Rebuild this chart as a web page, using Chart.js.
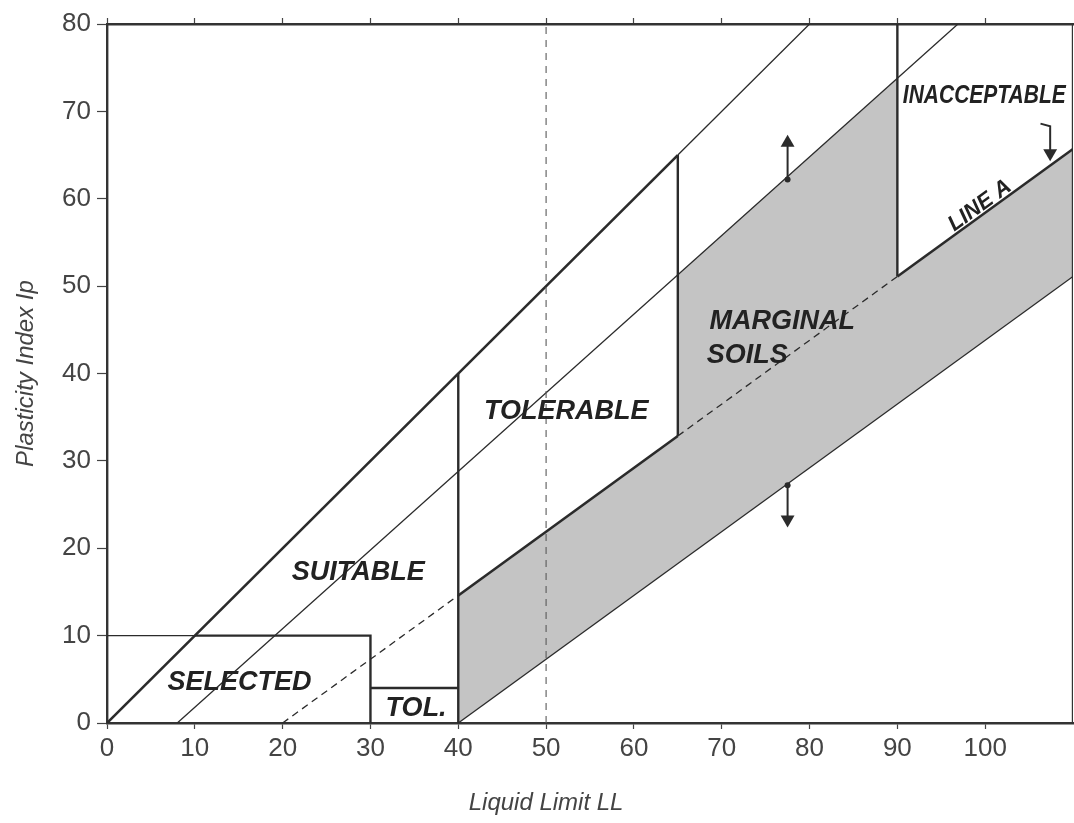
<!DOCTYPE html>
<html>
<head>
<meta charset="utf-8">
<script src="https://cdn.jsdelivr.net/npm/chart.js@4/dist/chart.umd.min.js"></script>
<style>
  html, body { margin: 0; padding: 0; background: #fff; overflow: hidden; }
  #wrap { width: 1074px; height: 823px; position: relative; }
</style>
</head>
<body>
<div id="wrap"><canvas id="chart"></canvas></div>
<script>
// axis ticks
var xTicks = [0, 10, 20, 30, 40, 50, 60, 70, 80, 90, 100];
var yTicks = [0, 10, 20, 30, 40, 50, 60, 70, 80];

// boundary lines [LL, Ip]
var upperThick = [[0, 0], [65, 65]];
var upperThin = [[65, 65], [80, 80]];
var midLine = [[8, 0], [96.9, 80]];
var lowerLine = [[40, 0], [110, 51.1]];
var lineADash1 = [[20, 0], [40, 14.6]];
var lineAThick1 = [[40, 14.6], [65, 32.85]];
var lineADash2 = [[65, 32.85], [90, 51.1]];
var lineAThick2 = [[90, 51.1], [110, 65.7]];
var selectedThin = [[0, 10], [10, 10]];
var selectedBox = [[10, 10], [30, 10], [30, 0]];
var tolBox = [[30, 4], [40, 4]];
var vert40 = [[40, 0], [40, 40]];
var vert65 = [[65, 32.85], [65, 65]];
var vert90 = [[90, 51.1], [90, 80]];
var vert50 = [[50, 0], [50, 80]];
var rightFrame = [[110, 0], [110, 80]];
// shaded band, upper edge (filled down to lowerLine)
var marginalTop = [[40, 14.6], [65, 32.85], [65, 51.3], [90, 73.8], [90, 51.1], [110, 65.7]];

// arrows
var arrowUp = [[77.5, 62.2], [77.5, 66.4]];
var arrowDown = [[77.5, 27.2], [77.5, 23.3]];
var arrowLineA = [[106.3, 68.6], [107.4, 68.3], [107.4, 65.2]];

// region labels [text, LL, Ip]
var regionLabels = [
  ['SELECTED', 15.1, 4.6],
  ['TOL.', 35.2, 1.6],
  ['SUITABLE', 28.6, 17.2],
  ['TOLERABLE', 52.3, 35.7],
  ['MARGINAL', 76.9, 46.0],
  ['INACCEPTABLE', 99.9, 71.8]
];

var INK = '#2b2b2b';
var FONT = '"Liberation Sans", Arial, sans-serif';

function pts(arr) {
  return arr.map(function (p) { return {x: p[0], y: p[1]}; });
}

function line(arr, width, color, dash) {
  return {
    data: pts(arr),
    showLine: true,
    borderColor: color || INK,
    borderWidth: width,
    borderDash: dash || [],
    pointRadius: 0,
    fill: false,
    borderCapStyle: 'butt'
  };
}

function arrow(arr, rot, radii) {
  var n = arr.length;
  var styles = [], rots = [];
  for (var i = 0; i < n; i++) {
    styles.push(i === n - 1 ? 'triangle' : 'circle');
    rots.push(i === n - 1 ? rot : 0);
  }
  return {
    data: pts(arr),
    showLine: true,
    borderColor: INK,
    borderWidth: 2,
    pointStyle: styles,
    pointRadius: radii,
    pointRotation: rots,
    pointBackgroundColor: INK,
    pointBorderColor: INK,
    pointBorderWidth: 0,
    fill: false
  };
}

var lower = line(lowerLine, 1.3);
var band = {
  data: pts(marginalTop),
  showLine: true,
  borderWidth: 0,
  borderColor: 'rgba(0,0,0,0)',
  backgroundColor: '#c4c4c4',
  pointRadius: 0,
  fill: {target: 0}
};

var datasets = [
  lower,
  band,
  line(vert50, 1.1, '#5a5a5a', [7, 6]),
  line(upperThick, 2.6),
  line(upperThin, 1.3),
  line(midLine, 1.3),
  line(lineADash1, 1.3, INK, [7, 5]),
  line(lineAThick1, 2.6),
  line(lineADash2, 1.3, INK, [7, 5]),
  line(lineAThick2, 2.6),
  line(selectedThin, 1.3),
  line(selectedBox, 2.4),
  line(tolBox, 2.4),
  line(vert40, 2.4),
  line(vert65, 2.4),
  line(vert90, 2.4),
  line(rightFrame, 2.4, '#333'),
  arrow(arrowUp, 0, [3, 8]),
  arrow(arrowDown, 180, [3, 8]),
  arrow(arrowLineA, 180, [0, 0, 8])
];

var labelPlugin = {
  id: 'labels',
  afterDatasetsDraw: function (chart) {
    var ctx = chart.ctx;
    var xs = chart.scales.x, ys = chart.scales.y;
    ctx.save();
    ctx.fillStyle = '#222';
    ctx.textAlign = 'center';
    ctx.textBaseline = 'middle';
    regionLabels.forEach(function (l) {
      var px = xs.getPixelForValue(l[1]), py = ys.getPixelForValue(l[2]);
      if (l[0] === 'INACCEPTABLE') {
        ctx.font = 'bold italic 25px ' + FONT;
        ctx.fillText(l[0], px, py, 163);
      } else {
        ctx.font = 'bold italic 27px ' + FONT;
        ctx.fillText(l[0], px, py);
      }
    });
    // second line of MARGINAL SOILS, left aligned
    ctx.font = 'bold italic 27px ' + FONT;
    ctx.textAlign = 'left';
    ctx.fillText('SOILS', xs.getPixelForValue(68.3), ys.getPixelForValue(42.0));

    // LINE A, rotated along the line
    var ax = xs.getPixelForValue(99.4), ay = ys.getPixelForValue(59.2);
    var ang = Math.atan2(ys.getPixelForValue(65.7) - ys.getPixelForValue(51.1),
                         xs.getPixelForValue(110) - xs.getPixelForValue(90));
    ctx.translate(ax, ay);
    ctx.rotate(ang);
    ctx.textAlign = 'center';
    ctx.font = 'bold italic 22px ' + FONT;
    ctx.fillText('LINE A', 0, 0);
    ctx.restore();

    // axis titles
    ctx.save();
    ctx.fillStyle = '#444';
    ctx.font = 'italic 24px ' + FONT;
    ctx.textAlign = 'center';
    ctx.textBaseline = 'middle';
    ctx.fillText('Liquid Limit LL', xs.getPixelForValue(50), 803);
    ctx.translate(26, (chart.chartArea.top + chart.chartArea.bottom) / 2);
    ctx.rotate(-Math.PI / 2);
    ctx.fillText('Plasticity Index Ip', 0, 0);
    ctx.restore();
  }
};

function noPad(s) {
  s.paddingLeft = 0;
  s.paddingRight = 0;
  s.paddingTop = 0;
  s.paddingBottom = 0;
}

new Chart(document.getElementById('chart').getContext('2d'), {
  type: 'scatter',
  data: {datasets: datasets},
  plugins: [labelPlugin],
  options: {
    responsive: true,
    maintainAspectRatio: false,
    animation: false,
    layout: {autoPadding: false, padding: {left: 0, top: 0, bottom: 0, right: 1}},
    plugins: {
      legend: {display: false},
      tooltip: {enabled: false},
      filler: {drawTime: 'beforeDatasetsDraw'}
    },
    scales: {
      x: {
        type: 'linear',
        position: 'bottom',
        min: 0,
        max: 110,
        afterBuildTicks: function (s) { s.ticks = xTicks.map(function (v) { return {value: v}; }); },
        ticks: {
          font: {size: 26, family: FONT},
          color: '#444',
          padding: 4,
          maxRotation: 0
        },
        grid: {drawOnChartArea: false, tickLength: 6, color: '#444', tickWidth: 1.2},
        border: {color: '#333', width: 2.4},
        afterFit: function (s) { s.height = 100; noPad(s); }
      },
      x2: {
        type: 'linear',
        position: 'top',
        min: 0,
        max: 110,
        afterBuildTicks: function (s) { s.ticks = xTicks.map(function (v) { return {value: v}; }); },
        ticks: {display: false},
        grid: {drawOnChartArea: false, tickLength: 6, color: '#444', tickWidth: 1.2},
        border: {color: '#333', width: 2.4},
        afterFit: function (s) { s.height = 24; noPad(s); }
      },
      y: {
        type: 'linear',
        position: 'left',
        min: 0,
        max: 80,
        afterBuildTicks: function (s) { s.ticks = yTicks.map(function (v) { return {value: v}; }); },
        ticks: {
          font: {size: 26, family: FONT},
          color: '#444',
          padding: 6
        },
        grid: {drawOnChartArea: false, tickLength: 10, color: '#444', tickWidth: 1.2},
        border: {color: '#333', width: 2.4},
        afterFit: function (s) { s.width = 107; noPad(s); }
      }
    }
  }
});
</script>
</body>
</html>
